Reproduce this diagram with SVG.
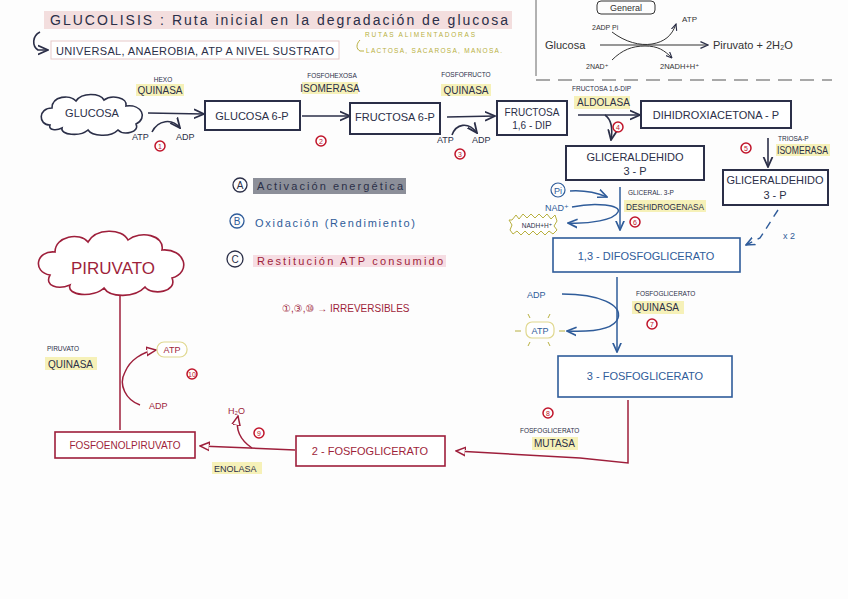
<svg xmlns="http://www.w3.org/2000/svg" width="848" height="599" viewBox="0 0 848 599">
<defs>
<style>
text{font-family:"Liberation Sans","DejaVu Sans",sans-serif;}
.k{fill:#2b2f48}.b{fill:#2f5c9a}.r{fill:#9e1f3b}.y{fill:#b8b040}
.sk{stroke:#2b2f48;fill:none;stroke-width:1.6}
.sb{stroke:#2f5c9a;fill:none;stroke-width:1.5}
.sr{stroke:#9e1f3b;fill:none;stroke-width:1.5}
.box{fill:#fff;stroke:#2b2f48;stroke-width:2}
.bbox{fill:#fff;stroke:#2f5c9a;stroke-width:1.6}
.rbox{fill:#fff;stroke:#9e1f3b;stroke-width:1.6}
.hl{fill:#f6f1b8}
.num{fill:none;stroke:#c0142a;stroke-width:1.5}
.numt{fill:#c0142a;font-size:7px;text-anchor:middle}
.s9{font-size:9px}.s10{font-size:10px}.s11{font-size:11px}.s7{font-size:6.5px}
</style>
<marker id="ak" viewBox="0 0 10 10" refX="9" refY="5" markerWidth="7" markerHeight="7" orient="auto"><path d="M0,1 L9,5 L0,9" fill="none" stroke="#2b2f48" stroke-width="1.6"/></marker>
<marker id="ab" viewBox="0 0 10 10" refX="9" refY="5" markerWidth="7" markerHeight="7" orient="auto"><path d="M0,1 L9,5 L0,9" fill="none" stroke="#2f5c9a" stroke-width="1.6"/></marker>
<marker id="ar" viewBox="0 0 10 10" refX="9" refY="5" markerWidth="7" markerHeight="7" orient="auto"><path d="M0,1 L9,5 L0,9 Z" fill="#fff" stroke="#9e1f3b" stroke-width="1.4"/></marker>
</defs>
<rect width="848" height="599" fill="#fdfdfd"/>

<g id="title">
<rect x="44" y="11" width="468" height="18" fill="#f3dede"/>
<text x="50" y="25" class="k" font-size="14" textLength="458" lengthAdjust="spacing">GLUCOLISIS : Ruta inicial en la degradación de glucosa</text>
<path d="M40,32 C32,36 32,46 38,50 L48,50" class="sk" stroke-width="1.4" marker-end="url(#ak)"/>
<rect x="51" y="41" width="288" height="18" fill="#fff" stroke="#e8caca" stroke-width="1"/>
<text x="56" y="55" class="k s11" textLength="278" lengthAdjust="spacing">UNIVERSAL, ANAEROBIA, ATP A NIVEL SUSTRATO</text>
<text x="365" y="37" class="y s7" textLength="110" lengthAdjust="spacing">RUTAS ALIMENTADORAS</text>
<path d="M360,40 C356,44 356,49 360,51 L364,51" fill="none" stroke="#b8b040" stroke-width="1"/>
<text x="366" y="53" class="y s7" textLength="136" lengthAdjust="spacing">LACTOSA, SACAROSA, MANOSA.</text>
</g>

<g id="general">
<line x1="536" y1="0" x2="536" y2="76" stroke="#666" stroke-width="1"/>
<rect x="597" y="1" width="58" height="13" rx="4" fill="none" stroke="#333" stroke-width="1"/>
<text x="626" y="11" font-size="9" fill="#333" text-anchor="middle">General</text>
<text x="545" y="49" font-size="11" fill="#333">Glucosa</text>
<line x1="600" y1="45" x2="708" y2="45" stroke="#333" stroke-width="1.2" marker-end="url(#ak)"/>
<text x="713" y="49" font-size="11" fill="#333">Piruvato + 2H₂O</text>
<text x="592" y="30" font-size="7" fill="#333">2ADP Pi</text>
<text x="682" y="22" font-size="8" fill="#333">ATP</text>
<text x="586" y="69" font-size="7" fill="#333">2NAD⁺</text>
<text x="660" y="69" font-size="7.5" fill="#333">2NADH+H⁺</text>
<path d="M612,32 C625,42 640,46 652,44 C664,42 672,36 676,24" fill="none" stroke="#333" stroke-width="1" marker-end="url(#ak)"/>
<path d="M612,60 C622,50 632,46 645,46 C658,46 664,50 672,58" fill="none" stroke="#333" stroke-width="1" marker-end="url(#ak)"/>
<line x1="536" y1="80" x2="832" y2="80" stroke="#555" stroke-width="1.2" stroke-dasharray="14,8"/>
</g>

<g id="connectors">
<line x1="148" y1="113" x2="204" y2="114" class="sk" stroke-width="1.2" marker-end="url(#ak)"/>
<path d="M152,132 C158,120 172,118 180,128" class="sk" stroke-width="1.2" marker-end="url(#ak)"/>
<line x1="302" y1="116" x2="350" y2="116" class="sk" stroke-width="1.2" marker-end="url(#ak)"/>
<line x1="447" y1="117" x2="495" y2="116" class="sk" stroke-width="1.2" marker-end="url(#ak)"/>
<path d="M452,135 C456,124 468,121 477,133" class="sk" stroke-width="1.2" marker-end="url(#ak)"/>
<line x1="578" y1="115" x2="640" y2="115" class="sk" stroke-width="1.2" marker-end="url(#ak)"/>
<path d="M605,115 C612,120 613,128 611,140" class="sk" stroke-width="1.2" marker-end="url(#ak)"/>
<line x1="768" y1="138" x2="768" y2="167" class="sk" stroke-width="1.2" marker-end="url(#ak)"/>
<path d="M570,191 C585,190 595,192 607,197" class="sb" marker-end="url(#ab)"/>
<line x1="620" y1="187" x2="620" y2="230" class="sb" marker-end="url(#ab)"/>
<path d="M572,207 C595,202 622,205 618,212 C614,220 590,224 568,223" class="sb" marker-end="url(#ab)"/>
<path d="M778,210 L760,238 L746,245" fill="none" stroke="#2f5c9a" stroke-width="1.4" stroke-dasharray="8,6" marker-end="url(#ab)"/>
<line x1="617" y1="277" x2="617" y2="352" class="sb" marker-end="url(#ab)"/>
<path d="M562,294 C600,294 622,305 618,318 C614,330 590,332 567,331" class="sb" marker-end="url(#ab)"/>
<path d="M628,400 L628,463 L580,458 L456,451" class="sr" marker-end="url(#ar)"/>
<line x1="295" y1="450" x2="200" y2="446" class="sr" marker-end="url(#ar)"/>
<path d="M252,448 C240,440 235,430 238,416" class="sr" marker-end="url(#ar)"/>
<line x1="120" y1="430" x2="120" y2="276" class="sr" marker-end="url(#ar)"/>
<path d="M140,405 C126,400 118,385 125,372 C130,360 142,352 156,350" class="sr" marker-end="url(#ar)"/>
</g>

<g id="glucosa">
<path d="M50,125 C38,125 38,108 52,108 C52,96 70,94 76,101 C82,92 100,93 104,100 C112,94 128,98 126,106 C142,104 148,118 136,124 C140,132 124,136 118,130 C110,138 92,136 88,130 C80,137 60,135 62,128 C56,131 48,130 50,125 Z" fill="#fff" stroke="#2b2f48" stroke-width="1.6"/>
<text x="92" y="117" class="k s11" text-anchor="middle">GLUCOSA</text>
</g>
<g id="e1">
<text x="163" y="82" class="k s7" text-anchor="middle">HEXO</text>
<rect x="136" y="84" width="48" height="12" class="hl"/>
<text x="160" y="94" class="k s10" text-anchor="middle">QUINASA</text>
<text x="132" y="140" class="k s9">ATP</text>
<text x="176" y="140" class="k s9">ADP</text>
<circle cx="160" cy="146" r="5" class="num"/><text x="160" y="148.5" class="numt">1</text>
</g>
<g id="g6p"><rect x="205" y="101" width="95" height="29" class="box"/><text x="252" y="120" class="k s11" text-anchor="middle">GLUCOSA 6-P</text></g>
<g id="e2">
<text x="332" y="78" class="k s7" text-anchor="middle">FOSFOHEXOSA</text>
<rect x="302" y="82" width="56" height="12" class="hl"/>
<text x="330" y="92" class="k s10" text-anchor="middle">ISOMERASA</text>
<circle cx="321" cy="141" r="5" class="num"/><text x="321" y="143.5" class="numt">2</text>
</g>
<g id="f6p"><rect x="350" y="103" width="90" height="31" class="box"/><text x="395" y="121" class="k s11" text-anchor="middle">FRUCTOSA 6-P</text></g>
<g id="e3">
<text x="466" y="77" class="k s7" text-anchor="middle">FOSFOFRUCTO</text>
<rect x="441" y="84" width="50" height="12" class="hl"/>
<text x="466" y="94" class="k s10" text-anchor="middle">QUINASA</text>
<text x="437" y="143" class="k s9">ATP</text>
<text x="472" y="143" class="k s9">ADP</text>
<circle cx="460" cy="154" r="5" class="num"/><text x="460" y="156.5" class="numt">3</text>
</g>
<g id="f16"><rect x="497" y="101" width="70" height="34" class="box"/><text x="532" y="116" class="k s10" text-anchor="middle">FRUCTOSA</text><text x="532" y="129" class="k s10" text-anchor="middle">1,6 - DIP</text></g>
<g id="e4">
<text x="572" y="91" class="k s7">FRUCTOSA 1,6-DIP</text>
<rect x="574" y="96" width="56" height="13" class="hl"/>
<text x="577" y="106" class="k s10">ALDOLASA</text>
<circle cx="618" cy="127" r="5" class="num"/><text x="618" y="129.5" class="numt">4</text>
</g>
<g id="dhap"><rect x="641" y="101" width="150" height="27" class="box"/><text x="716" y="119" class="k s11" text-anchor="middle">DIHIDROXIACETONA - P</text></g>
<g id="e5">
<circle cx="746" cy="148" r="5" class="num"/><text x="746" y="150.5" class="numt">5</text>
<text x="778" y="141" class="k s7">TRIOSA-P</text>
<rect x="776" y="144" width="54" height="12" class="hl"/>
<text x="777" y="154" class="k s10" textLength="51" lengthAdjust="spacingAndGlyphs">ISOMERASA</text>
</g>
<g id="gap1"><rect x="566" y="146" width="138" height="34" class="box"/><text x="635" y="161" class="k s11" text-anchor="middle">GLICERALDEHIDO</text><text x="635" y="175" class="k s11" text-anchor="middle">3 - P</text></g>
<g id="gap2"><rect x="723" y="170" width="105" height="35" class="box"/><text x="775" y="184" class="k s11" text-anchor="middle">GLICERALDEHIDO</text><text x="775" y="199" class="k s11" text-anchor="middle">3 - P</text></g>
<text x="783" y="239" class="b s9">x 2</text>

<g id="legend">
<circle cx="240" cy="185" r="7" fill="none" stroke="#2b2f48" stroke-width="1.3"/><text x="240" y="189" class="k s10" text-anchor="middle">A</text>
<rect x="253" y="178" width="153" height="16" fill="#8c8f99"/>
<text x="257" y="190" class="k s11" textLength="146" lengthAdjust="spacing">Activación energética</text>
<circle cx="237" cy="221" r="7" fill="none" stroke="#2f5c9a" stroke-width="1.3"/><text x="237" y="225" class="b s10" text-anchor="middle">B</text>
<text x="255" y="227" class="b s11" textLength="160" lengthAdjust="spacing">Oxidación (Rendimiento)</text>
<circle cx="235" cy="259" r="8" fill="none" stroke="#2b2f48" stroke-width="1.3"/><text x="235" y="263" class="k s10" text-anchor="middle">C</text>
<rect x="253" y="255" width="193" height="12" fill="#f6dde3"/>
<text x="257" y="265" class="r s11" textLength="186" lengthAdjust="spacing">Restitución ATP consumido</text>
<text x="282" y="312" class="r s10">①,③,⑩ → IRREVERSIBLES</text>
</g>

<g id="e6">
<circle cx="558" cy="190" r="7" fill="none" stroke="#2f5c9a" stroke-width="1.2"/><text x="558" y="194" class="b s9" text-anchor="middle">Pi</text>
<text x="545" y="211" class="b s9">NAD⁺</text>
<path d="M512,220 l4,-5 l3,4 l4,-5 l4,4 l4,-4 l4,4 l4,-4 l4,4 l4,-4 l4,5 l4,-4 l2,6 l-3,5 l3,4 l-4,4 l-4,-3 l-4,4 l-4,-4 l-4,4 l-4,-4 l-4,4 l-4,-4 l-4,4 l-4,-4 l-4,3 l-3,-4 l2,-5 l-3,-5 Z" fill="#fff" stroke="#b8b040" stroke-width="1"/>
<text x="537" y="228" class="k s7" text-anchor="middle">NADH+H⁺</text>
<text x="628" y="195" class="k s7">GLICERAL. 3-P</text>
<rect x="624" y="200" width="82" height="12" class="hl"/>
<text x="626" y="210" class="k s9" textLength="78" lengthAdjust="spacingAndGlyphs">DESHIDROGENASA</text>
<circle cx="635" cy="222" r="5" class="num"/><text x="635" y="224.5" class="numt">6</text>
</g>
<g id="bpg"><rect x="553" y="238" width="187" height="34" class="bbox"/><text x="646" y="260" class="b s11" text-anchor="middle">1,3 - DIFOSFOGLICERATO</text></g>
<g id="e7">
<text x="527" y="298" class="b s9">ADP</text>
<rect x="526" y="322" width="28" height="16" rx="6" fill="#fff" stroke="#e0d890" stroke-width="1.2"/>
<text x="540" y="334" class="b s9" text-anchor="middle">ATP</text>
<path d="M515,331 h6 M559,331 h6 M530,318 l-2,-4 M548,318 l2,-4 M530,342 l-2,4 M548,342 l2,4" stroke="#b8b040" stroke-width="1"/>
<text x="636" y="296" class="k s7">FOSFOGLICERATO</text>
<rect x="632" y="301" width="52" height="13" class="hl"/>
<text x="634" y="311" class="k s10">QUINASA</text>
<circle cx="652" cy="324" r="5" class="num"/><text x="652" y="326.5" class="numt">7</text>
</g>
<g id="pg3"><rect x="558" y="356" width="174" height="41" class="bbox"/><text x="645" y="380" class="b s11" text-anchor="middle">3 - FOSFOGLICERATO</text></g>
<g id="e8">
<circle cx="548" cy="413" r="5" class="num"/><text x="548" y="415.5" class="numt">8</text>
<text x="520" y="433" class="k s7">FOSFOGLICERATO</text>
<rect x="532" y="437" width="46" height="13" class="hl"/>
<text x="534" y="447" class="k s10">MUTASA</text>
</g>
<g id="pg2"><rect x="296" y="436" width="149" height="30" class="rbox"/><text x="370" y="455" class="r s11" text-anchor="middle">2 - FOSFOGLICERATO</text></g>
<g id="e9">
<text x="228" y="414" class="r s9">H₂O</text>
<circle cx="259" cy="433" r="5" class="num"/><text x="259" y="435.5" class="numt">9</text>
<rect x="212" y="462" width="50" height="12" class="hl"/>
<text x="214" y="472" class="k s9">ENOLASA</text>
</g>
<g id="pep"><rect x="55" y="432" width="140" height="26" class="rbox"/><text x="125" y="449" class="r s10" text-anchor="middle">FOSFOENOLPIRUVATO</text></g>
<g id="e10">
<text x="149" y="409" class="r s9">ADP</text>
<rect x="157" y="342" width="30" height="15" rx="7" fill="#fff" stroke="#e0d890" stroke-width="1.2"/>
<text x="172" y="353" class="r s9" text-anchor="middle">ATP</text>
<circle cx="192" cy="374" r="5" class="num"/><text x="192" y="376.5" class="numt">10</text>
<text x="47" y="351" class="k s7">PIRUVATO</text>
<rect x="45" y="357" width="52" height="13" class="hl"/>
<text x="48" y="368" class="k s10">QUINASA</text>
</g>
<g id="piruvato">
<path d="M50,275 C32,272 36,250 55,252 C55,236 80,232 88,242 C96,228 122,228 128,240 C140,230 165,235 162,250 C185,248 192,272 172,278 C178,292 152,296 145,287 C135,298 110,298 104,288 C94,298 66,296 70,285 C58,290 44,286 50,275 Z" fill="#fff" stroke="#9e1f3b" stroke-width="1.6"/>
<text x="113" y="274" class="r" font-size="17" text-anchor="middle">PIRUVATO</text>
</g>
</svg>
